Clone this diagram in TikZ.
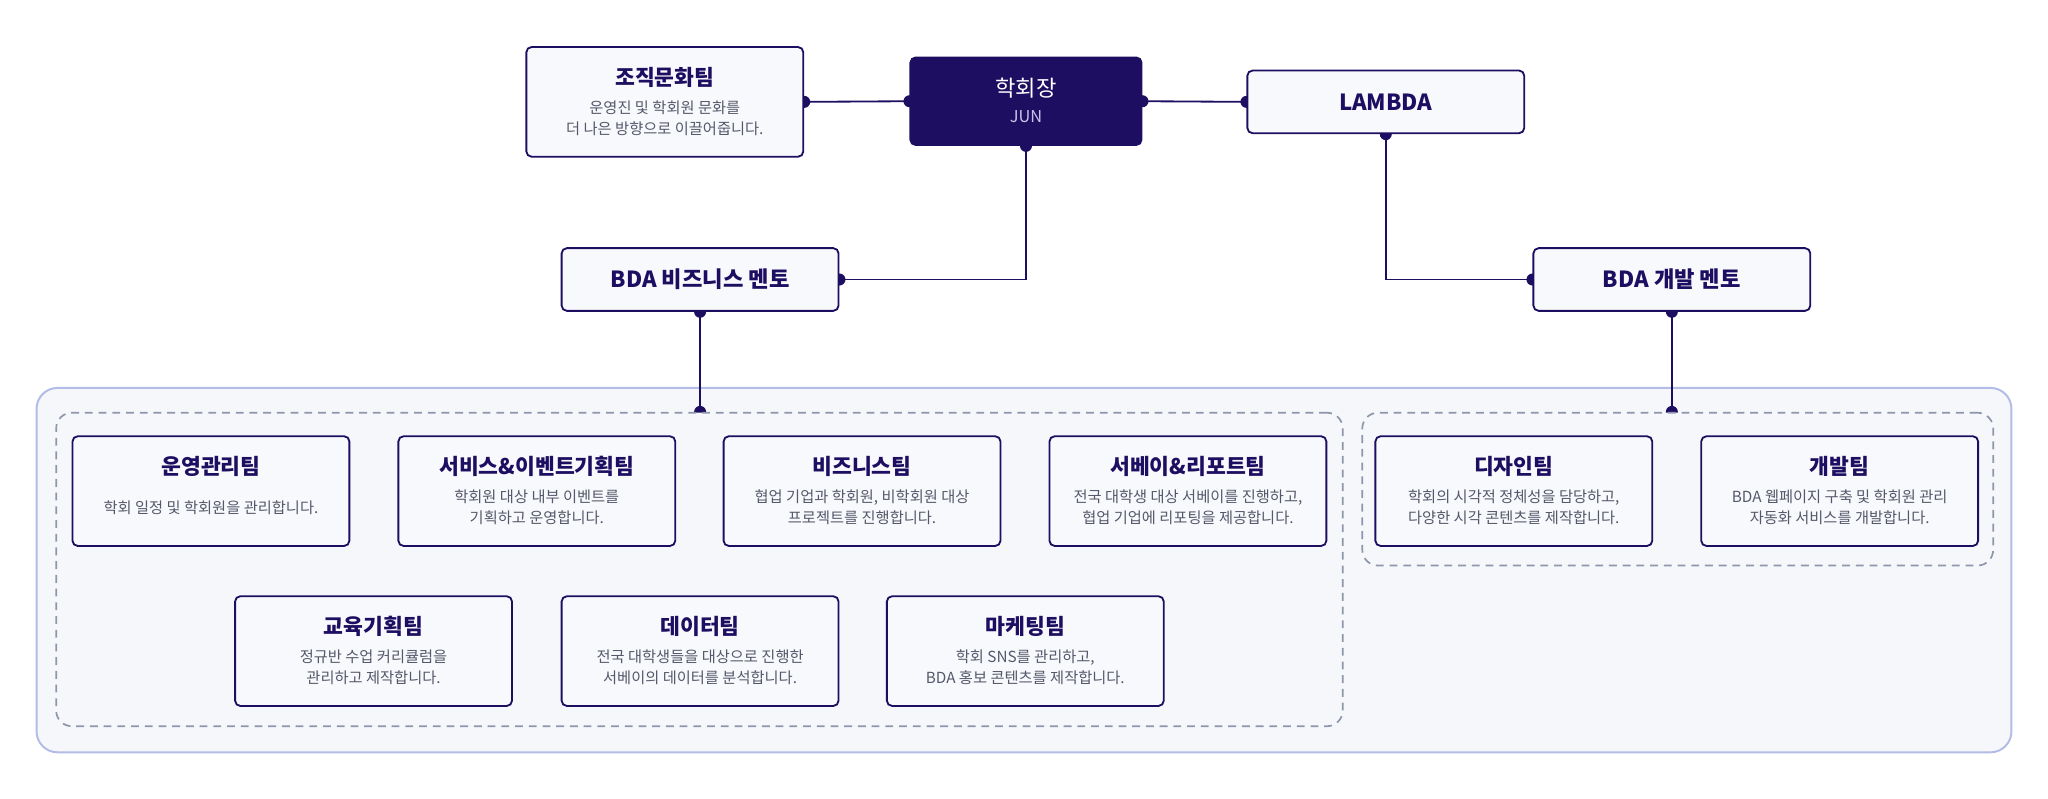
\documentclass[tikz,border=0pt]{standalone}
\usepackage{fontspec}
\setmainfont{Noto Sans CJK KR}
\usetikzlibrary{calc}
\definecolor{navy}{HTML}{1E0E62}
\definecolor{bodygray}{HTML}{55586A}
\definecolor{boxfill}{HTML}{F8F9FC}
\definecolor{outerfill}{HTML}{F6F7FA}
\definecolor{outerline}{HTML}{B3BCE6}
\definecolor{dashline}{HTML}{8D97AB}
\definecolor{junfg}{HTML}{C9C3EA}
\pgfdeclarelayer{bg}
\pgfdeclarelayer{conn}
\pgfsetlayers{bg,conn,main}
\tikzset{
  teambox/.style={draw=navy, line width=1.4pt, fill=boxfill, rounded corners=4pt,
    minimum width=212pt, minimum height=84pt, inner sep=0pt},
  mentorbox/.style={draw=navy, line width=1.4pt, fill=boxfill, rounded corners=4pt,
    minimum width=212pt, minimum height=48pt, inner sep=0pt,
    font=\fontsize{17}{20}\selectfont\bfseries, text=navy},
  presbox/.style={fill=navy, draw=navy, line width=1.4pt, rounded corners=4pt,
    minimum width=177pt, minimum height=67pt, inner sep=0pt},
  ttl/.style={inner sep=0pt, font=\fontsize{16.5}{19}\selectfont\bfseries, text=navy},
  bdy/.style={inner sep=0pt, align=center, font=\fontsize{11.7}{16}\selectfont, text=bodygray},
  outerbox/.style={draw=outerline, line width=1.5pt, fill=outerfill, rounded corners=16pt, inner sep=0pt},
  groupbox/.style={draw=dashline, line width=1.3pt, dash pattern=on 6pt off 4.5pt,
    fill=outerfill, rounded corners=12pt, inner sep=0pt},
  conn/.style={draw=navy, line width=1.4pt},
}
\newcommand{\joindot}[1]{\fill[navy] (#1) circle[radius=4.6pt];}
% \teamunit{name}{x}{y}{title}{body}
\newcommand{\teamunit}[5]{%
  \node[teambox] (#1) at (#2,#3) {};
  \node[ttl] (#1-t) at ($(#1.north)+(0,24)$) {#4};
  \node[bdy] (#1-b) at ($(#1.center)+(0,12.5)$) {#5};
}
\begin{document}
\begin{tikzpicture}[x=1pt,y=-1pt]
\useasboundingbox (0,0) rectangle (1568,611.7);

\begin{pgfonlayer}{bg}
\node[outerbox, minimum width=1512pt, minimum height=279pt] (outer) at (784,436.5) {};
\end{pgfonlayer}

% groups
\node[groupbox, minimum width=985pt, minimum height=240pt] (gL) at (535.5,436) {};
\node[groupbox, minimum width=483pt, minimum height=117pt] (gR) at (1284.5,374.5) {};

% top nodes
\teamunit{org}{509}{78}{조직문화팀}{운영진 및 학회원 문화를\\더 나은 방향으로 이끌어줍니다.}
\node[presbox] (pres) at (785.5,77.5) {};
\node[inner sep=0pt, font=\fontsize{17}{20}\selectfont, text=white] (pres-t) at ($(pres.north)+(0,24)$) {학회장};
\node[inner sep=0pt, font=\fontsize{12.5}{15}\selectfont, text=junfg] (pres-b) at ($(pres.north)+(0,46)$) {JUN};
\node[mentorbox] (lambda) at (1061,78) {LAMBDA};
\node[mentorbox] (bizm) at (536,214) {BDA 비즈니스 멘토};
\node[mentorbox] (devm) at (1280,214) {BDA 개발 멘토};

% row 1
\teamunit{ops}{161.5}{376}{운영관리팀}{학회 일정 및 학회원을 관리합니다.}
\teamunit{svc}{411}{376}{서비스\&이벤트기획팀}{학회원 대상 내부 이벤트를\\기획하고 운영합니다.}
\teamunit{biz}{660}{376}{비즈니스팀}{협업 기업과 학회원, 비학회원 대상\\프로젝트를 진행합니다.}
\teamunit{srv}{909.5}{376}{서베이\&리포트팀}{전국 대학생 대상 서베이를 진행하고,\\협업 기업에 리포팅을 제공합니다.}
\teamunit{des}{1159}{376}{디자인팀}{학회의 시각적 정체성을 담당하고,\\다양한 시각 콘텐츠를 제작합니다.}
\teamunit{dev}{1408.5}{376}{개발팀}{BDA 웹페이지 구축 및 학회원 관리\\자동화 서비스를 개발합니다.}
% row 2
\teamunit{edu}{286}{498.5}{교육기획팀}{정규반 수업 커리큘럼을\\관리하고 제작합니다.}
\teamunit{data}{536}{498.5}{데이터팀}{전국 대학생들을 대상으로 진행한\\서베이의 데이터를 분석합니다.}
\teamunit{mkt}{785}{498.5}{마케팅팀}{학회 SNS를 관리하고,\\BDA 홍보 콘텐츠를 제작합니다.}

% connectors
\begin{pgfonlayer}{conn}
\draw[conn] (org.east) -- (pres.west);
\joindot{org.east}\joindot{pres.west}
\draw[conn] (pres.east) -- (lambda.west);
\joindot{pres.east}\joindot{lambda.west}
\draw[conn] (pres.south) |- (bizm.east);
\joindot{pres.south}\joindot{bizm.east}
\draw[conn] (lambda.south) |- (devm.west);
\joindot{lambda.south}\joindot{devm.west}
\draw[conn] (bizm.south) -- (bizm.south |- gL.north);
\joindot{bizm.south}\joindot{bizm.south |- gL.north}
\draw[conn] (devm.south) -- (devm.south |- gR.north);
\joindot{devm.south}\joindot{devm.south |- gR.north}
\end{pgfonlayer}
\end{tikzpicture}
\end{document}
